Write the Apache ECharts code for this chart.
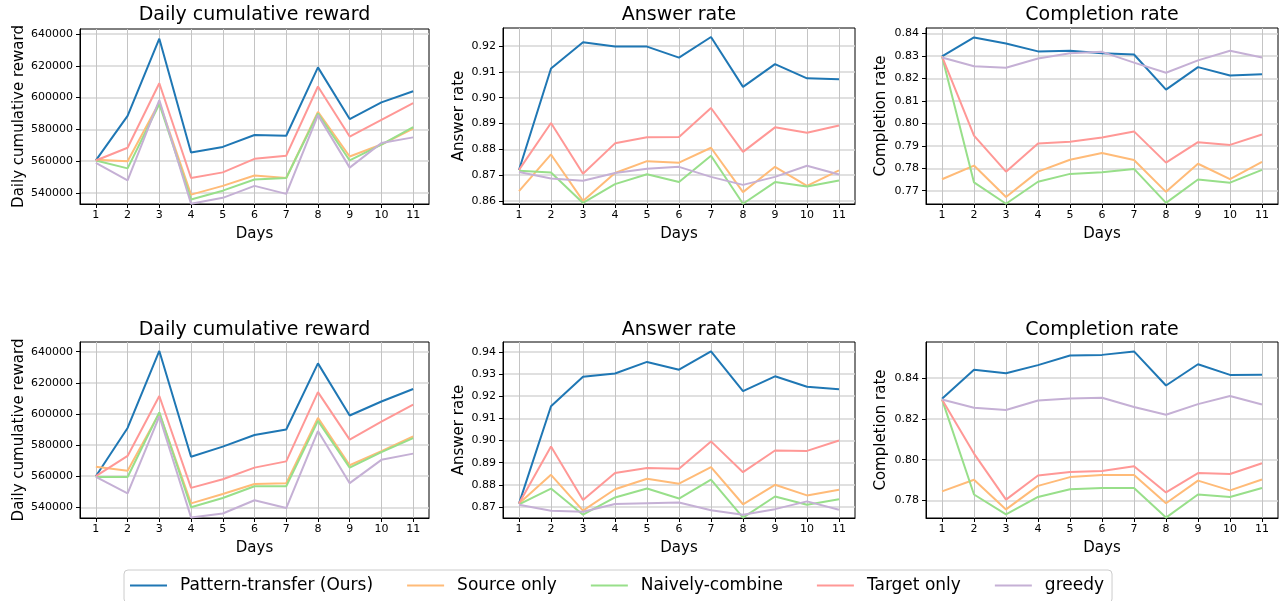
<!DOCTYPE html>
<html>
<head>
<meta charset="utf-8">
<script src="https://cdn.jsdelivr.net/npm/echarts@6/dist/echarts.min.js"></script>
<style>html,body{margin:0;padding:0;background:#fff}#c{width:1281px;height:601px}</style>
</head>
<body>
<div id="c"></div>
<script>
// ---------------- DATA ----------------
const days = ['1','2','3','4','5','6','7','8','9','10','11'];
const seriesNames = ['Pattern-transfer (Ours)','Source only','Naively-combine','Target only','greedy'];
const panelTitles = ['Daily cumulative reward','Answer rate','Completion rate','Daily cumulative reward','Answer rate','Completion rate'];
const yNames = ['Daily cumulative reward','Answer rate','Completion rate','Daily cumulative reward','Answer rate','Completion rate'];
const xName = 'Days';

// Top row: daily cumulative reward
const rewardTop_pattern = [560500,588500,637000,565500,569000,576500,576000,619000,586500,597000,604000];
const rewardTop_source  = [561000,560000,597000,539000,544500,551000,549500,591000,563000,570500,580500];
const rewardTop_naive   = [560500,555500,596000,536000,541500,548500,549500,590000,560500,570500,581500];
const rewardTop_target  = [560500,568500,609000,549500,553000,561500,563500,607000,575500,586000,596500];
const rewardTop_greedy  = [559000,548000,598500,533300,537000,544500,539500,589000,556000,571500,575000];

// Top row: answer rate
const answerTop_pattern = [0.8720,0.9113,0.9215,0.9198,0.9198,0.9155,0.9235,0.9042,0.9130,0.9075,0.9071];
const answerTop_source  = [0.8638,0.8780,0.8600,0.8708,0.8754,0.8748,0.8806,0.8634,0.8732,0.8658,0.8718];
const answerTop_naive   = [0.8717,0.8710,0.8592,0.8665,0.8703,0.8673,0.8775,0.8589,0.8673,0.8656,0.8679];
const answerTop_target  = [0.8720,0.8902,0.8705,0.8823,0.8847,0.8848,0.8960,0.8790,0.8885,0.8864,0.8892];
const answerTop_greedy  = [0.8712,0.8687,0.8678,0.8708,0.8725,0.8732,0.8693,0.8662,0.8693,0.8736,0.8702];

// Top row: completion rate
const complTop_pattern = [0.8298,0.8382,0.8355,0.8320,0.8323,0.8312,0.8306,0.8150,0.8250,0.8213,0.8218];
const complTop_source  = [0.7751,0.7812,0.7672,0.7785,0.7838,0.7868,0.7837,0.7695,0.7820,0.7752,0.7828];
const complTop_naive   = [0.8298,0.7737,0.7642,0.7740,0.7775,0.7782,0.7797,0.7646,0.7750,0.7736,0.7793];
const complTop_target  = [0.8298,0.7945,0.7785,0.7910,0.7918,0.7937,0.7964,0.7825,0.7916,0.7904,0.7950];
const complTop_greedy  = [0.8293,0.8254,0.8247,0.8288,0.8312,0.8318,0.8270,0.8225,0.8280,0.8323,0.8293];

// Bottom row: daily cumulative reward
const rewardBot_pattern = [560000,591000,640500,572500,579000,586500,590000,632500,599000,608000,616000];
const rewardBot_source  = [566000,563500,600500,542500,548500,555000,555500,597500,567000,576000,585500];
const rewardBot_naive   = [559500,559500,601000,540000,546000,553500,553500,595500,565500,575500,584500];
const rewardBot_target  = [560000,573000,611500,552500,558000,565500,569500,614000,583500,595000,606000];
const rewardBot_greedy  = [559500,549000,598500,533500,536000,544500,539500,589000,555500,570500,574500];

// Bottom row: answer rate
const answerBot_pattern = [0.8715,0.9155,0.9288,0.9303,0.9355,0.9320,0.9403,0.9223,0.9290,0.9243,0.9232];
const answerBot_source  = [0.8715,0.8845,0.8683,0.8780,0.8827,0.8805,0.8880,0.8712,0.8800,0.8752,0.8778];
const answerBot_naive   = [0.8712,0.8783,0.8665,0.8743,0.8783,0.8738,0.8823,0.8652,0.8747,0.8710,0.8735];
const answerBot_target  = [0.8715,0.8973,0.8731,0.8853,0.8876,0.8872,0.8996,0.8857,0.8955,0.8953,0.9000];
const answerBot_greedy  = [0.8710,0.8683,0.8678,0.8713,0.8717,0.8720,0.8685,0.8665,0.8690,0.8725,0.8687];

// Bottom row: completion rate
const complBot_pattern = [0.8298,0.8440,0.8423,0.8463,0.8510,0.8513,0.8530,0.8363,0.8467,0.8415,0.8416];
const complBot_source  = [0.7845,0.7902,0.7757,0.7872,0.7915,0.7925,0.7925,0.7787,0.7898,0.7850,0.7903];
const complBot_naive   = [0.8295,0.7830,0.7733,0.7818,0.7856,0.7862,0.7862,0.7717,0.7830,0.7818,0.7862];
const complBot_target  = [0.8295,0.8030,0.7805,0.7923,0.7940,0.7945,0.7968,0.7840,0.7935,0.7930,0.7983];
const complBot_greedy  = [0.8295,0.8254,0.8243,0.8290,0.8300,0.8303,0.8258,0.8220,0.8272,0.8312,0.8270];

// Tick labels (y axes)
const rewardTopTicks = [540000,560000,580000,600000,620000,640000];
const answerTopTicks = [0.86,0.87,0.88,0.89,0.90,0.91,0.92];
const complTopTicks  = [0.77,0.78,0.79,0.80,0.81,0.82,0.83,0.84];
const rewardBotTicks = [540000,560000,580000,600000,620000,640000];
const answerBotTicks = [0.87,0.88,0.89,0.90,0.91,0.92,0.93,0.94];
const complBotTicks  = [0.78,0.80,0.82,0.84];

// ---------------- CHART ----------------
const panelData = [
  [rewardTop_pattern,rewardTop_source,rewardTop_naive,rewardTop_target,rewardTop_greedy],
  [answerTop_pattern,answerTop_source,answerTop_naive,answerTop_target,answerTop_greedy],
  [complTop_pattern,complTop_source,complTop_naive,complTop_target,complTop_greedy],
  [rewardBot_pattern,rewardBot_source,rewardBot_naive,rewardBot_target,rewardBot_greedy],
  [answerBot_pattern,answerBot_source,answerBot_naive,answerBot_target,answerBot_greedy],
  [complBot_pattern,complBot_source,complBot_naive,complBot_target,complBot_greedy]
];
const panelTicks = [rewardTopTicks,answerTopTicks,complTopTicks,rewardBotTicks,answerBotTicks,complBotTicks];

const FONT = 'DejaVu Sans';
const colors = ['#1f77b4','#ffbb78','#98df8a','#ff9896','#c5b0d5'];
const layout = [
  {left:80,  top:29,  width:349, height:175, min:533125, max:643125, step:20000, dec:0, nameGap:53},
  {left:503, top:28,  width:352, height:176, min:0.8588, max:0.927,  step:0.01,  dec:2, nameGap:36},
  {left:926, top:28,  width:352, height:176, min:0.7641, max:0.8424, step:0.01,  dec:2, nameGap:37},
  {left:80,  top:342, width:349, height:176, min:533120, max:646230, step:20000, dec:0, nameGap:53},
  {left:503, top:342, width:352, height:176, min:0.865,  max:0.9445, step:0.01,  dec:2, nameGap:36},
  {left:926, top:342, width:352, height:176, min:0.7715, max:0.8576, step:0.02,  dec:2, nameGap:37}
];

const grids = [], xAxes = [], yAxes = [], titles = [], series = [];
layout.forEach((L, i) => {
  grids.push({left:L.left, top:L.top, width:L.width, height:L.height, show:true,
    borderColor:'#000', borderWidth:1, backgroundColor:'#fff', containLabel:false});
  titles.push({text:panelTitles[i], left:L.left + L.width/2, top: (i<3 ? 6 : 321), textAlign:'center', padding:0,
    textStyle:{fontFamily:FONT, fontSize:19, fontWeight:'normal', color:'#000'}});
  xAxes.push({type:'category', gridIndex:i, data:days, boundaryGap:true,
    name:xName, nameLocation:'middle', nameGap:23,
    nameTextStyle:{fontFamily:FONT, fontSize:15, color:'#000'},
    axisLine:{show:true, lineStyle:{color:'#000', width:1}},
    axisTick:{show:true, alignWithLabel:true, length:4, lineStyle:{color:'#000'}},
    axisLabel:{fontFamily:FONT, fontSize:11, color:'#000', margin:6, interval:0},
    splitLine:{show:true, alignWithLabel:true, interval:0, lineStyle:{color:'#c4c4c4', width:1}}
  });
  const step = L.step, dec = L.dec;
  yAxes.push({type:'value', gridIndex:i, min:L.min, max:L.max, splitNumber: (step===0.02?4:(dec===0?5:7)),
    name:yNames[i], nameLocation:'middle', nameGap:L.nameGap,
    nameTextStyle:{fontFamily:FONT, fontSize:15, color:'#000'},
    axisLine:{show:true, lineStyle:{color:'#000', width:1}},
    axisTick:{show:true, length:4, lineStyle:{color:'#000'}, customValues: panelTicks[i]},
    axisLabel:{fontFamily:FONT, fontSize:11, color:'#000', margin:7, customValues: panelTicks[i],
      formatter: v => { const r = v/step; return Math.abs(r - Math.round(r)) < 1e-6 ? (dec ? v.toFixed(dec) : String(Math.round(v))) : ''; }},
    splitLine:{show:true, lineStyle:{color:'#d6d6d6', width:1.6}}
  });
  panelData[i].forEach((arr, k) => {
    series.push({type:'line', name:seriesNames[k], xAxisIndex:i, yAxisIndex:i, data:arr,
      symbol:'none', showSymbol:false, color:colors[k], lineStyle:{color:colors[k], width:2}, z:2+k});
  });
});

const chart = echarts.init(document.getElementById('c'), null, {renderer:'canvas'});
chart.setOption({
  backgroundColor:'#fff',
  animation:false,
  title:titles,
  grid:grids,
  xAxis:xAxes,
  yAxis:yAxes,
  legend:{data:seriesNames, left:124, top:570, orient:'horizontal', icon:'rect',
    itemWidth:37, itemHeight:2, itemGap:34, padding:[7,8,9,6],
    borderColor:'#cccccc', borderWidth:1, borderRadius:4, backgroundColor:'#fff',
    textStyle:{fontFamily:FONT, fontSize:17, color:'#000', padding:[0,0,0,8]}},
  series:series
});
</script>
</body>
</html>
